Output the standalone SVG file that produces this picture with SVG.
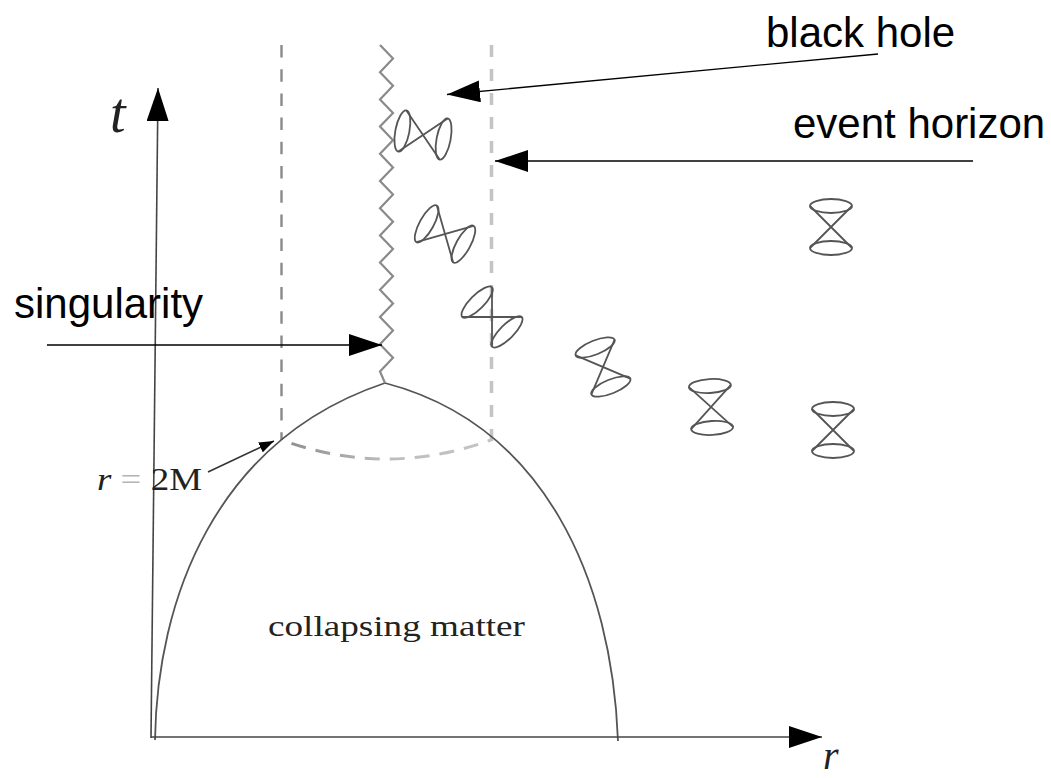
<svg xmlns="http://www.w3.org/2000/svg" xmlns:xlink="http://www.w3.org/1999/xlink" width="1051" height="778" viewBox="0 0 1051 778">
<style>
.sans{font-family:"Liberation Sans",Arial,sans-serif;font-size:42px;fill:#000}
.serif{font-family:"Liberation Serif","Times New Roman",serif;fill:#222}
.axis{stroke:#444;stroke-width:1.6;fill:none}
.conn{stroke:#000;stroke-width:1.3;fill:none}
.cone{stroke:#555;stroke-width:1.8;fill:none}
.dashDark{stroke:#8a8a8a;stroke-width:2.4;stroke-dasharray:12.5 11.7;fill:none}
.dashLight{stroke:#c4c4c4;stroke-width:3.5;stroke-dasharray:12 12;fill:none}
</style>
<defs>
<marker id="arrow" viewBox="0 0 33 22" refX="33" refY="11" markerUnits="userSpaceOnUse" markerWidth="33" markerHeight="22" orient="auto">
<path d="M0,0 L33,11 L0,22 Z" fill="#000"/>
</marker>
<marker id="arrowSmall" viewBox="0 0 15 11" refX="15" refY="5.5" markerUnits="userSpaceOnUse" markerWidth="15" markerHeight="11" orient="auto">
<path d="M0,0 L15,5.5 L0,11 Z" fill="#000"/>
</marker>
<linearGradient id="arcGrad" x1="0" y1="0" x2="1" y2="0">
<stop offset="0" stop-color="#8c8c8c"/>
<stop offset="0.5" stop-color="#bdbdbd"/>
<stop offset="1" stop-color="#c4c4c4"/>
</linearGradient>
<g id="cone">
<ellipse cx="0" cy="-21" rx="21" ry="7"/>
<ellipse cx="0" cy="21" rx="21" ry="7"/>
<path d="M-21,-21 L21,21 M21,-21 L-21,21"/>
</g>
</defs>
<rect width="1051" height="778" fill="#fff"/>

<g id="horizon-lines">
<line class="dashDark" x1="281.5" y1="45" x2="281.5" y2="440"/>
<line class="dashLight" x1="491.5" y1="45" x2="491.5" y2="441"/>
<path d="M282,440 Q385,478 491,440" stroke="url(#arcGrad)" stroke-width="3" stroke-dasharray="15 10" stroke-dashoffset="15" fill="none"/>
</g>

<g id="collapsing-matter">
<path d="M155,740 C157,600 215,440 385,383 C545,425 612,580 618,741" stroke="#555" stroke-width="1.8" fill="none"/>
<text class="serif" x="268" y="636" font-size="29" textLength="257" lengthAdjust="spacingAndGlyphs" fill="#333">collapsing matter</text>
</g>

<g id="singularity-line">
<path d="M380,45 L393,58.6 L380,72.2 L393,85.8 L380,99.4 L393,113 L380,126.6 L393,140.2 L380,153.8 L393,167.4 L380,181 L393,194.6 L380,208.2 L393,221.8 L380,235.4 L393,249 L380,262.6 L393,276.2 L380,289.8 L393,303.4 L380,317 L393,330.6 L380,344.2 L393,357.8 L380,371.4 L385,383" stroke="#8a8a8a" stroke-width="2.2" fill="none" stroke-linejoin="miter"/>
</g>

<g id="axes">
<line class="axis" x1="151" y1="738" x2="158" y2="88" marker-end="url(#arrow)"/>
<line class="axis" x1="151" y1="737" x2="822" y2="737" marker-end="url(#arrow)"/>
<text class="serif" x="110" y="132" font-size="56" font-style="italic" fill="#000">t</text>
<text class="serif" x="823" y="769" font-size="40" font-style="italic" fill="#000">r</text>
</g>

<g id="light-cones" class="cone">
<use xlink:href="#cone" href="#cone" transform="translate(423,135) rotate(-79)"/>
<use xlink:href="#cone" href="#cone" transform="translate(445,234) rotate(-61)"/>
<use xlink:href="#cone" href="#cone" transform="translate(492,317) rotate(-45)"/>
<use xlink:href="#cone" href="#cone" transform="translate(603,367) rotate(-22)"/>
<use xlink:href="#cone" href="#cone" transform="translate(711,407) rotate(-3)"/>
<use xlink:href="#cone" href="#cone" transform="translate(833,430)"/>
<use xlink:href="#cone" href="#cone" transform="translate(831,227)"/>
</g>

<g id="label-black-hole">
<text class="sans" x="766" y="47">black hole</text>
</g>
<g id="label-event-horizon">
<text class="sans" x="793" y="138">event horizon</text>
</g>
<g id="label-singularity">
<text class="sans" x="14" y="318">singularity</text>
</g>
<g id="label-r2m">
<text class="serif" x="97" y="490" font-size="32" textLength="105" lengthAdjust="spacingAndGlyphs" fill="#111"><tspan font-style="italic">r</tspan> <tspan fill="#b5b5b5">=</tspan> 2M</text>
</g>

<g id="connectors">
<line class="conn" x1="878" y1="54" x2="447" y2="94.5" marker-end="url(#arrow)"/>
<line class="conn" x1="973" y1="161" x2="495" y2="161" marker-end="url(#arrow)"/>
<line class="conn" x1="47" y1="345" x2="382" y2="345" marker-end="url(#arrow)"/>
<line stroke="#333" stroke-width="1.6" x1="208" y1="472" x2="274" y2="441" marker-end="url(#arrowSmall)"/>
</g>
</svg>
